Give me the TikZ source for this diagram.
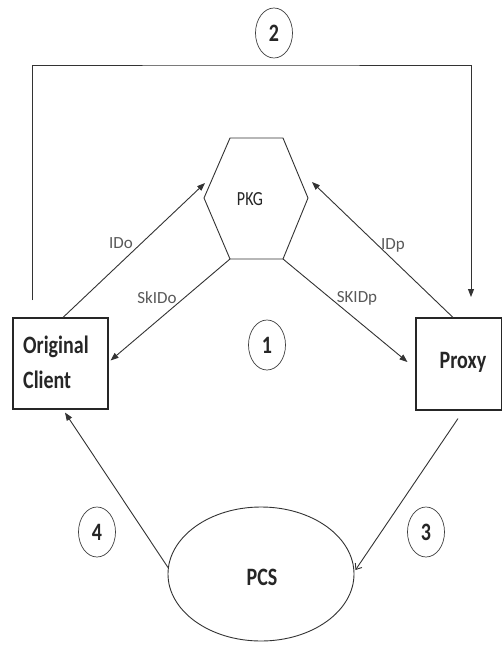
\documentclass[tikz,border=0pt]{standalone}
\usepackage{fontspec}
\setmainfont{Carlito}
\usepackage{graphicx}
\usetikzlibrary{arrows.meta,shapes.geometric}
\newcommand{\narrowtxt}[1]{\scalebox{0.8}[1]{#1}}

\begin{document}
\begin{tikzpicture}[x=1pt,y=-1pt,
  line/.style={draw=black!80, line width=0.9pt},
  arr/.style={line, -{Triangle[length=8pt,width=6pt]}},
  barb/.style={line, -{Straight Barb[length=5pt,width=8pt]}},
  box/.style={draw=black!85, line width=1.1pt, inner sep=0pt},
  big/.style={font=\fontsize{25}{35}\selectfont\bfseries, text=black!85, inner sep=0pt},
  lbl/.style={font=\fontsize{17}{20}\selectfont, text=black!65, inner sep=0pt},
  numc/.style={draw=black!75, line width=0.7pt, ellipse, minimum width=37pt,
               minimum height=50pt, inner sep=0pt,
               font=\fontsize{25}{28}\selectfont\bfseries, text=black!85}
]
\fill[white] (0,0) rectangle (502,647);
\useasboundingbox (0,0) rectangle (502,647);

% participants
\node[box, minimum width=95pt, minimum height=91pt] (oc) at (60.5,363.5) {};
\node[big, anchor=west, align=left] (octext) at (23,362) {\narrowtxt{Original}\\\narrowtxt{Client}};
\node[box, minimum width=86pt, minimum height=92pt] (px) at (459,364) {};
\node[big] (pxtext) at (463,362) {\narrowtxt{Proxy}};
\node[line, ellipse, minimum width=186pt, minimum height=134pt, inner sep=0pt] (pcs) at (261,574) {};
\node[big] (pcstext) at (262,577) {\narrowtxt{PCS}};

% PKG hexagon
\coordinate (h1) at (230,138);
\coordinate (h2) at (283,138);
\coordinate (h3) at (308,198);
\coordinate (h4) at (283,259);
\coordinate (h5) at (230,259);
\coordinate (h6) at (204,198);
\draw[line] (h1) -- (h2) -- (h3) -- (h4) -- (h5) -- (h6) -- cycle;
\node[font=\fontsize{20}{24}\selectfont, text=black!85] (pkg) at (250,199) {\narrowtxt{PKG}};
\coordinate (pkgin1) at (205,183);
\coordinate (pkgin2) at (312,182);

% step 1: identities to PKG, private keys back
\draw[arr] ([xshift=2.5pt]oc.north) -- (pkgin1);
\draw[arr] (h5) -- ([shift={(2,-3)}]oc.east);
\draw[arr] ([xshift=-6pt]px.north) -- (pkgin2);
\draw[arr] (h4) -- ([shift={(-8,-2)}]px.west);

% step 2: client to proxy
\coordinate (s2) at (32,300);
\coordinate (t2) at (250,65);
\coordinate (e2) at (471,297);
\draw[arr] (s2) |- (t2) -| (e2);

% step 3 and 4 through PCS
\draw[barb] ([shift={(-1,8)}]px.south) -- ([shift={(1,-4)}]pcs.east);
\draw[arr] (pcs.176) -- ([shift={(4.5,3)}]oc.south);

% labels
\node[lbl] (lido) at (121,243) {IDo};
\node[lbl] (lskido) at (157,298) {SkIDo};
\node[lbl] (lidp) at (393,245) {IDp};
\node[lbl] (lskidp) at (357,298) {SKIDp};

% step numbers
\node[numc] (n1) at (267,345) {\narrowtxt{1}};
\node[numc] (n2) at (274,33) {\narrowtxt{2}};
\node[numc] (n3) at (426,532) {\narrowtxt{3}};
\node[numc] (n4) at (97,532) {\narrowtxt{4}};
\end{tikzpicture}
\end{document}
